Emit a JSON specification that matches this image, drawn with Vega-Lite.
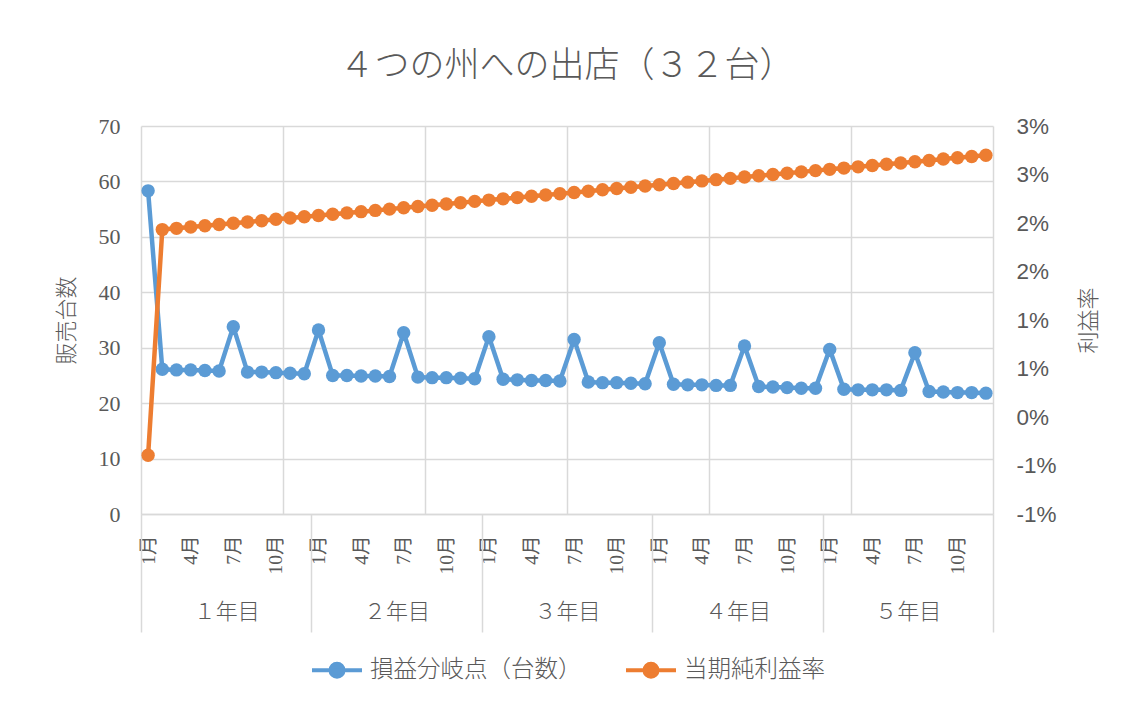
{
  "$schema": "https://vega.github.io/schema/vega-lite/v6.json",
  "autosize": {"type": "none"},
  "width": 852,
  "height": 388,
  "padding": {"left": 141, "top": 126, "right": 138, "bottom": 195},
  "background": "#ffffff",
  "config": {
    "view": {"stroke": null},
    "axis": {"labelFlush": false, "labelOverlap": false, "labelBound": false},
    "legend": {"layout": {"bottom": {"anchor": "middle"}}}
  },
  "title": {
    "text": "４つの州への出店（３２台）",
    "font": "Noto Sans CJK JP",
    "fontSize": 35,
    "fontWeight": 300,
    "color": "#595959",
    "anchor": "middle",
    "offset": 31
  },
  "data": {
    "values": [
      {"month": 1, "breakeven": 58.3, "margin": -0.00395},
      {"month": 2, "breakeven": 26.1, "margin": 0.01932},
      {"month": 3, "breakeven": 26.0, "margin": 0.01945},
      {"month": 4, "breakeven": 26.0, "margin": 0.01958},
      {"month": 5, "breakeven": 25.9, "margin": 0.01972},
      {"month": 6, "breakeven": 25.8, "margin": 0.01985},
      {"month": 7, "breakeven": 33.8, "margin": 0.01998},
      {"month": 8, "breakeven": 25.6, "margin": 0.02011},
      {"month": 9, "breakeven": 25.6, "margin": 0.02024},
      {"month": 10, "breakeven": 25.5, "margin": 0.02038},
      {"month": 11, "breakeven": 25.4, "margin": 0.02051},
      {"month": 12, "breakeven": 25.3, "margin": 0.02064},
      {"month": 13, "breakeven": 33.2, "margin": 0.02077},
      {"month": 14, "breakeven": 25.0, "margin": 0.02091},
      {"month": 15, "breakeven": 25.0, "margin": 0.02104},
      {"month": 16, "breakeven": 24.9, "margin": 0.02117},
      {"month": 17, "breakeven": 24.9, "margin": 0.02130},
      {"month": 18, "breakeven": 24.8, "margin": 0.02143},
      {"month": 19, "breakeven": 32.7, "margin": 0.02157},
      {"month": 20, "breakeven": 24.7, "margin": 0.02170},
      {"month": 21, "breakeven": 24.6, "margin": 0.02183},
      {"month": 22, "breakeven": 24.6, "margin": 0.02196},
      {"month": 23, "breakeven": 24.5, "margin": 0.02209},
      {"month": 24, "breakeven": 24.4, "margin": 0.02223},
      {"month": 25, "breakeven": 32.0, "margin": 0.02236},
      {"month": 26, "breakeven": 24.3, "margin": 0.02249},
      {"month": 27, "breakeven": 24.2, "margin": 0.02262},
      {"month": 28, "breakeven": 24.1, "margin": 0.02275},
      {"month": 29, "breakeven": 24.1, "margin": 0.02289},
      {"month": 30, "breakeven": 24.0, "margin": 0.02302},
      {"month": 31, "breakeven": 31.5, "margin": 0.02315},
      {"month": 32, "breakeven": 23.8, "margin": 0.02328},
      {"month": 33, "breakeven": 23.7, "margin": 0.02342},
      {"month": 34, "breakeven": 23.7, "margin": 0.02355},
      {"month": 35, "breakeven": 23.6, "margin": 0.02368},
      {"month": 36, "breakeven": 23.5, "margin": 0.02381},
      {"month": 37, "breakeven": 30.9, "margin": 0.02394},
      {"month": 38, "breakeven": 23.4, "margin": 0.02408},
      {"month": 39, "breakeven": 23.3, "margin": 0.02421},
      {"month": 40, "breakeven": 23.3, "margin": 0.02434},
      {"month": 41, "breakeven": 23.2, "margin": 0.02447},
      {"month": 42, "breakeven": 23.2, "margin": 0.02460},
      {"month": 43, "breakeven": 30.3, "margin": 0.02474},
      {"month": 44, "breakeven": 23.0, "margin": 0.02487},
      {"month": 45, "breakeven": 22.9, "margin": 0.02500},
      {"month": 46, "breakeven": 22.8, "margin": 0.02513},
      {"month": 47, "breakeven": 22.7, "margin": 0.02527},
      {"month": 48, "breakeven": 22.7, "margin": 0.02540},
      {"month": 49, "breakeven": 29.7, "margin": 0.02553},
      {"month": 50, "breakeven": 22.5, "margin": 0.02566},
      {"month": 51, "breakeven": 22.4, "margin": 0.02579},
      {"month": 52, "breakeven": 22.4, "margin": 0.02593},
      {"month": 53, "breakeven": 22.4, "margin": 0.02606},
      {"month": 54, "breakeven": 22.3, "margin": 0.02619},
      {"month": 55, "breakeven": 29.1, "margin": 0.02632},
      {"month": 56, "breakeven": 22.1, "margin": 0.02645},
      {"month": 57, "breakeven": 22.0, "margin": 0.02659},
      {"month": 58, "breakeven": 21.9, "margin": 0.02672},
      {"month": 59, "breakeven": 21.9, "margin": 0.02685},
      {"month": 60, "breakeven": 21.8, "margin": 0.02698}
    ]
  },
  "layer": [
    {
      "mark": {"type": "line", "strokeWidth": 4.5, "strokeCap": "round", "strokeJoin": "round"},
      "encoding": {
        "x": {
          "field": "month", "type": "quantitative",
          "scale": {"domain": [0.5, 60.5], "nice": false, "zero": false},
          "axis": {
            "orient": "bottom", "title": null,
            "values": [0.5, 10.5, 20.5, 30.5, 40.5, 50.5, 60.5],
            "labels": false, "ticks": false,
            "grid": true, "gridColor": "#d9d9d9", "gridWidth": 1.5,
            "domain": true, "domainColor": "#d9d9d9", "domainWidth": 1.5
          }
        },
        "y": {
          "field": "breakeven", "type": "quantitative",
          "scale": {"domain": [0, 70], "nice": false, "zero": false},
          "axis": {
            "orient": "left",
            "values": [0, 10, 20, 30, 40, 50, 60, 70],
            "title": "販売台数",
            "titleFont": "Noto Sans CJK JP", "titleFontSize": 22, "titleFontWeight": 300,
            "titleColor": "#595959", "titlePadding": 20,
            "labelFont": "Liberation Serif", "labelFontSize": 22, "labelColor": "#595959",
            "labelPadding": 21,
            "ticks": false, "domain": false,
            "grid": true, "gridColor": "#d9d9d9", "gridWidth": 1.5
          }
        },
        "color": {
          "datum": "損益分岐点（台数）", "type": "nominal",
          "scale": {"domain": ["損益分岐点（台数）", "当期純利益率"], "range": ["#5B9BD5", "#ED7D31"]},
          "legend": {
            "orient": "bottom", "direction": "horizontal", "title": null,
            "symbolType": "M-1,0H1M0.26,0A0.26,0.26,0,1,1,-0.26,0A0.26,0.26,0,1,1,0.26,0",
            "symbolSize": 2500, "symbolStrokeWidth": 4,
            "labelFont": "Noto Sans CJK JP", "labelFontSize": 23.5, "labelFontWeight": 300, "labelColor": "#595959",
            "labelOffset": 6, "columnPadding": 36, "labelLimit": 400, "offset": 10,
            "encode": {
              "symbols": {
                "update": {
                  "fill": {"scale": "color", "field": "value"},
                  "stroke": {"scale": "color", "field": "value"},
                  "opacity": {"value": 1}
                }
              }
            }
          }
        }
      }
    },
    {
      "mark": {"type": "point", "shape": "circle", "filled": true, "size": 180, "opacity": 1},
      "encoding": {
        "x": {
          "field": "month", "type": "quantitative",
          "scale": {"domain": [0.5, 60.5], "nice": false, "zero": false},
          "axis": {
            "orient": "bottom", "title": null,
            "values": [1, 4, 7, 10, 13, 16, 19, 22, 25, 28, 31, 34, 37, 40, 43, 46, 49, 52, 55, 58],
            "labelExpr": "(datum.value - 1) % 12 + 1 + '月'",
            "labelAngle": -90, "labelPadding": 21,
            "labelFont": "Liberation Serif, Noto Sans CJK JP", "labelFontSize": 19.5, "labelColor": "#595959",
            "ticks": false, "grid": false, "domain": false
          }
        },
        "y": {
          "field": "breakeven", "type": "quantitative",
          "scale": {"domain": [0, 70], "nice": false, "zero": false},
          "axis": null
        },
        "color": {"datum": "損益分岐点（台数）", "type": "nominal"}
      }
    },
    {
      "mark": {"type": "line", "strokeWidth": 4.5, "strokeCap": "round", "strokeJoin": "round"},
      "encoding": {
        "x": {
          "field": "month", "type": "quantitative",
          "scale": {"domain": [0.5, 60.5], "nice": false, "zero": false},
          "axis": {
            "orient": "bottom", "title": null,
            "values": [6.5, 18.5, 30.5, 42.5, 54.5],
            "labelExpr": "substring('１２３４５', floor(datum.value / 12), floor(datum.value / 12) + 1) + '年目'",
            "labelPadding": 87,
            "labelFont": "Noto Sans CJK JP", "labelFontSize": 22, "labelFontWeight": 300, "labelColor": "#595959",
            "ticks": false, "grid": false, "domain": false
          }
        },
        "y": {
          "field": "margin", "type": "quantitative",
          "scale": {"domain": [-0.01, 0.03], "nice": false, "zero": false},
          "axis": {
            "orient": "right",
            "values": [-0.01, -0.005, 0, 0.005, 0.01, 0.015, 0.02, 0.025, 0.03],
            "labelExpr": "(datum.value < 0 ? '-' : '') + round(abs(datum.value) * 100 + 1e-9) + '%'",
            "title": "利益率", "titleAngle": -90,
            "titleFont": "Noto Sans CJK JP", "titleFontSize": 22, "titleFontWeight": 300,
            "titleColor": "#595959", "titlePadding": 44,
            "labelFont": "Liberation Sans", "labelFontSize": 22.5, "labelColor": "#595959",
            "labelPadding": 23,
            "ticks": false, "domain": false, "grid": false
          }
        },
        "color": {"datum": "当期純利益率", "type": "nominal"}
      }
    },
    {
      "mark": {"type": "point", "shape": "circle", "filled": true, "size": 180, "opacity": 1},
      "encoding": {
        "x": {
          "field": "month", "type": "quantitative",
          "scale": {"domain": [0.5, 60.5], "nice": false, "zero": false},
          "axis": {
            "orient": "bottom", "title": null,
            "values": [0.5, 12.5, 24.5, 36.5, 48.5, 60.5],
            "labels": false, "grid": false, "domain": false,
            "ticks": true, "tickSize": 118, "tickColor": "#d9d9d9", "tickWidth": 1.5
          }
        },
        "y": {
          "field": "margin", "type": "quantitative",
          "scale": {"domain": [-0.01, 0.03], "nice": false, "zero": false},
          "axis": null
        },
        "color": {"datum": "当期純利益率", "type": "nominal"}
      }
    }
  ],
  "resolve": {
    "scale": {"y": "independent"},
    "axis": {"x": "independent", "y": "independent"}
  }
}
